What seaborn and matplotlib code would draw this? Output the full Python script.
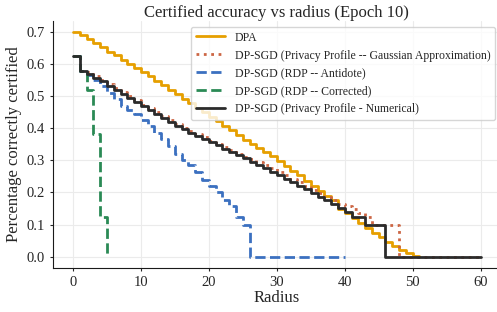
import seaborn as sns
import matplotlib.pyplot as plt
import pandas as pd
import numpy as np

# radius grid for each curve
radius_dpa = list(range(0, 52))
radius_gauss = list(range(0, 61))
radius_antidote = list(range(0, 41))
radius_corrected = list(range(0, 6))
radius_numerical = list(range(0, 61))

acc_dpa = [0.698, 0.688, 0.676, 0.664, 0.651, 0.638, 0.626, 0.613, 0.600, 0.588,
           0.575, 0.561, 0.547, 0.533, 0.519, 0.505, 0.491, 0.477, 0.463, 0.449,
           0.435, 0.421, 0.407, 0.393, 0.379, 0.364, 0.351, 0.338, 0.325, 0.312,
           0.298, 0.283, 0.268, 0.253, 0.237, 0.221, 0.205, 0.190, 0.175, 0.150,
           0.135, 0.120, 0.105, 0.090, 0.074, 0.060, 0.047, 0.034, 0.022, 0.011,
           0.003, 0.0]

acc_gauss = [0.625, 0.578, 0.573, 0.561, 0.550, 0.537, 0.524, 0.511, 0.499, 0.486,
             0.473, 0.461, 0.449, 0.437, 0.425, 0.413, 0.401, 0.391, 0.381, 0.371,
             0.361, 0.351, 0.341, 0.331, 0.321, 0.311, 0.305, 0.295, 0.285, 0.275,
             0.264, 0.253, 0.242, 0.231, 0.220, 0.208, 0.197, 0.185, 0.175, 0.165,
             0.158, 0.150, 0.137, 0.125, 0.099, 0.099, 0.099, 0.099, 0.0, 0.0,
             0.0, 0.0, 0.0, 0.0, 0.0, 0.0, 0.0, 0.0, 0.0, 0.0, 0.0]

acc_antidote = [0.625, 0.578, 0.565, 0.548, 0.530, 0.510, 0.490, 0.470, 0.455, 0.443,
                0.425, 0.405, 0.385, 0.365, 0.345, 0.320, 0.300, 0.285, 0.265, 0.240,
                0.220, 0.200, 0.178, 0.157, 0.125, 0.100, 0.0, 0.0, 0.0, 0.0,
                0.0, 0.0, 0.0, 0.0, 0.0, 0.0, 0.0, 0.0, 0.0, 0.0, 0.0]

acc_corrected = [0.625, 0.578, 0.52, 0.383, 0.125, 0.0]

acc_numerical = [0.625, 0.578, 0.568, 0.556, 0.545, 0.532, 0.519, 0.506, 0.494, 0.481,
                 0.468, 0.456, 0.444, 0.432, 0.420, 0.408, 0.396, 0.386, 0.376, 0.366,
                 0.356, 0.346, 0.336, 0.326, 0.316, 0.306, 0.296, 0.285, 0.275, 0.265,
                 0.254, 0.243, 0.232, 0.221, 0.210, 0.198, 0.187, 0.175, 0.163, 0.152,
                 0.140, 0.125, 0.125, 0.098, 0.098, 0.098, 0.0, 0.0, 0.0, 0.0,
                 0.0, 0.0, 0.0, 0.0, 0.0, 0.0, 0.0, 0.0, 0.0, 0.0, 0.0]

labels = ['DPA',
          'DP-SGD (Privacy Profile -- Gaussian Approximation)',
          'DP-SGD (RDP -- Antidote)',
          'DP-SGD (RDP -- Corrected)',
          'DP-SGD (Privacy Profile - Numerical)']

sns.set_style("ticks", {"axes.grid": True, "grid.color": ".92",
                        "axes.edgecolor": "0.1"})
plt.rcParams['font.family'] = ['Liberation Serif', 'DejaVu Serif']

fig = plt.figure(figsize=(4.97, 3.12), dpi=100)
ax = fig.add_axes([0.1058, 0.141, 0.9022, 0.7917])

curves = [
    (radius_dpa, acc_dpa, '#E69F00', '-'),
    (radius_gauss, acc_gauss, '#CC6644', ':'),
    (radius_antidote, acc_antidote, '#3B70C0', '--'),
    (radius_corrected, acc_corrected, '#2A8A55', '--'),
    (radius_numerical, acc_numerical, '#2B2B2B', '-'),
]
for (r, acc, col, ls), lab in zip(curves, labels):
    sns.lineplot(x=r, y=acc, ax=ax, color=col, linestyle=ls, linewidth=2,
                 drawstyle='steps-post', label=lab)

ax.set_xlim(-3, 63)
ax.set_ylim(-0.035, 0.733)
ax.set_xticks(range(0, 61, 10))
ax.set_yticks(np.arange(0, 0.71, 0.1))
ax.tick_params(labelsize=10.5, length=2, pad=3.5)
ax.set_xlabel('Radius', fontsize=12, labelpad=1)
ax.set_ylabel('Percentage correctly certified', fontsize=12, labelpad=3)
ax.set_title('Certified accuracy vs radius (Epoch 10)', fontsize=12, pad=3)
sns.despine(ax=ax)
ax.legend(loc='upper right', fontsize=8.5, handlelength=2.5, borderaxespad=0.5)

fig.savefig('out.png', dpi=100)
